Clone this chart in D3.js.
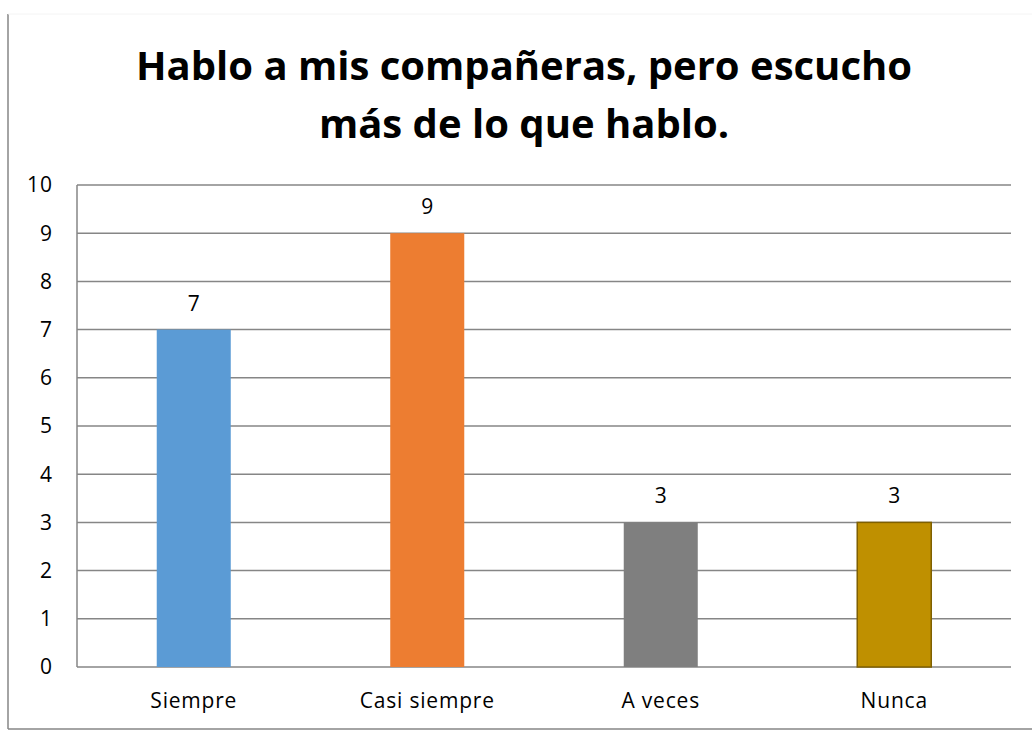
<!DOCTYPE html>
<meta charset="utf-8">
<head>
    <title>Hablo a mis compañeras</title>
    <script src="https://d3js.org/d3.v7.min.js"></script>
</head>

<style>
body { margin: 0; background: #fff; }
text { font-family: "Open Sans", sans-serif; fill: #000; }
</style>

<body>

<svg></svg>

<script>

// chart data
let categories = ["Siempre", "Casi siempre", "A veces", "Nunca"];
let values = [7, 9, 3, 3];
let colors = ["#5b9bd5", "#ed7d31", "#7f7f7f", "#bf9000"];
let yTicks = [0, 1, 2, 3, 4, 5, 6, 7, 8, 9, 10];
let titleLines = ["Hablo a mis compañeras, pero escucho", "más de lo que hablo."];

let W = 1032, H = 732;
let margin = {top: 185, right: 21, bottom: 65, left: 77};
let width = W - margin.left - margin.right;
let height = H - margin.top - margin.bottom;

let root = d3.select("svg")
    .attr("width", W)
    .attr("height", H);

// outer chart border (left and bottom only visible)
root.append("line")
    .attr("x1", 8).attr("x2", 8)
    .attr("y1", 14).attr("y2", 729)
    .attr("stroke", "#868686")
    .attr("stroke-width", 1.5);
root.append("line")
    .attr("x1", 8).attr("x2", W)
    .attr("y1", 729).attr("y2", 729)
    .attr("stroke", "#868686")
    .attr("stroke-width", 1.5);
root.append("line")
    .attr("x1", 8).attr("x2", W)
    .attr("y1", 14).attr("y2", 14)
    .attr("stroke", "#f4f4f4")
    .attr("stroke-width", 1);

// title
root.append("g").selectAll("text")
    .data(titleLines)
    .enter().append("text")
    .attr("x", 524)
    .attr("y", function(d, i) { return 80 + i * 58; })
    .attr("text-anchor", "middle")
    .style("font-size", "40px")
    .style("font-weight", "bold")
    .text(function(d) { return d; });

let x = d3.scaleBand()
    .domain(categories)
    .range([0, width]);

let y = d3.scaleLinear()
    .domain([0, 10])
    .range([height, 0]);

let svg = root.append("g")
    .attr("transform", "translate(" + margin.left + "," + margin.top + ")");

// gridlines
svg.selectAll(".grid")
    .data(yTicks)
    .enter().append("line")
    .attr("x1", 0).attr("x2", width)
    .attr("y1", function(d) { return y(d); })
    .attr("y2", function(d) { return y(d); })
    .attr("stroke", "#868686")
    .attr("stroke-width", 1.5);

// left axis line
svg.append("line")
    .attr("x1", 0).attr("x2", 0)
    .attr("y1", 0).attr("y2", height)
    .attr("stroke", "#868686")
    .attr("stroke-width", 1.5);

// y tick labels
svg.selectAll(".ylab")
    .data(yTicks)
    .enter().append("text")
    .attr("x", -24)
    .attr("y", function(d) { return y(d); })
    .attr("dy", "0.35em")
    .attr("text-anchor", "end")
    .style("font-size", "21px")
    .style("letter-spacing", "1px")
    .text(function(d) { return d; });

let barW = x.bandwidth() * 0.317;

// bars
svg.selectAll(".bar")
    .data(values)
    .enter().append("rect")
    .attr("x", function(d, i) { return x(categories[i]) + (x.bandwidth() - barW) / 2; })
    .attr("y", function(d) { return y(d); })
    .attr("width", barW)
    .attr("height", function(d) { return height - y(d); })
    .attr("fill", function(d, i) { return colors[i]; })
    .attr("stroke", function(d, i) { return i === 3 ? "#7f6000" : "none"; })
    .attr("stroke-width", 1.5);

// value labels
svg.selectAll(".val")
    .data(values)
    .enter().append("text")
    .attr("x", function(d, i) { return x(categories[i]) + x.bandwidth() / 2; })
    .attr("y", function(d) { return y(d) - 19; })
    .attr("text-anchor", "middle")
    .style("font-size", "21px")
    .text(function(d) { return d; });

// category labels
svg.selectAll(".cat")
    .data(categories)
    .enter().append("text")
    .attr("x", function(d) { return x(d) + x.bandwidth() / 2; })
    .attr("y", height + 41)
    .attr("text-anchor", "middle")
    .style("font-size", "21px")
    .style("letter-spacing", "0.8px")
    .text(function(d) { return d; });

</script>

</body>
